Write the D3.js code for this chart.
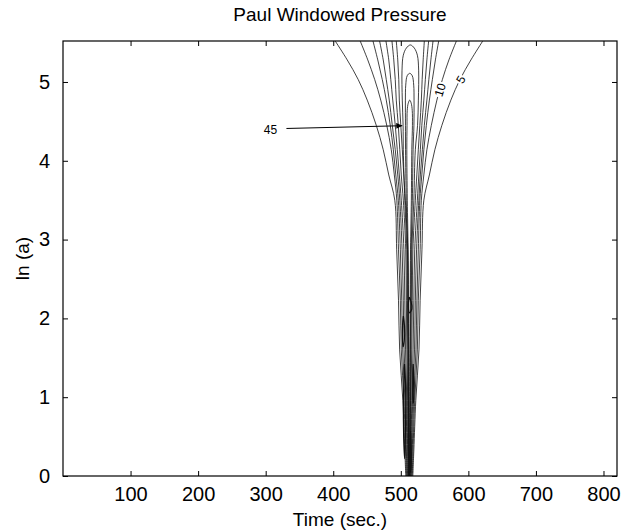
<!DOCTYPE html>
<html><head><meta charset="utf-8">
<script src="https://cdn.jsdelivr.net/npm/d3@7"></script>
<style>
html,body{margin:0;padding:0;background:#fff;}
svg{display:block;font-family:"Liberation Sans",Arial,Helvetica,sans-serif;}
</style></head><body>
<svg id="chart" width="621" height="532"></svg>
<script>
// ---------- data ----------
const titleText = "Paul Windowed Pressure";
const xLabel = "Time (sec.)";
const yLabel = "ln (a)";
const xTicks = [100, 200, 300, 400, 500, 600, 700, 800];
const yTicks = [0, 1, 2, 3, 4, 5];
const timeDomain = [0, 820];
const lnADomain = [0, 5.52];

// common ln(a) grid for the open contour branches (top -> bottom)
const lnAGrid = [5.52, 5.28, 5.03, 4.77, 4.45, 4.14, 3.82, 3.50, 2.87, 2.23, 1.60, 0.96, 0.33, 0];

// time of each open contour branch at the ln(a) grid
const c5L  = [402.9, 420.7, 437.0, 450.3, 463.7, 474.0, 482.2, 491.1, 493.9, 496.6, 498.3, 503.0, 505.9, 507.4];
const c5R  = [621.3, 603.8, 587.5, 574.1, 560.8, 550.4, 542.3, 534.1, 531.3, 528.6, 526.9, 522.2, 519.3, 517.8];
const c10L = [439.9, 451.1, 461.4, 470.3, 479.2, 485.9, 490.4, 494.1, 496.6, 499.3, 500.7, 504.6, 507.1, 508.3];
const c10R = [582.3, 571.2, 561.5, 553.4, 545.2, 538.6, 534.1, 530.4, 528.6, 525.9, 524.5, 520.6, 518.1, 516.9];
const c15L = [458.8, 465.9, 472.6, 478.5, 484.4, 488.9, 492.6, 496.3, 499.3, 501.4, 502.8, 506.1, 508.2, 509.2];
const c15R = [556.1, 551.2, 546.7, 542.3, 537.8, 534.1, 531.1, 528.2, 525.9, 523.8, 522.4, 519.1, 517.0, 516.0];
const c20L = [468.6, 474.0, 478.5, 482.9, 487.4, 491.8, 495.5, 498.5, 501.9, 503.7, 504.9, 507.6, 509.2, 509.9];
const c20R = [547.7, 544.5, 541.5, 538.6, 534.8, 531.9, 528.9, 526.7, 523.3, 521.5, 520.3, 517.6, 516.0, 515.3];
const c25L = [478.0, 482.2, 485.2, 488.1, 491.8, 494.8, 497.8, 500.7, 504.6, 505.9, 507.0, 508.9, 510.1, 510.7];
const c25R = [541.2, 538.6, 536.3, 534.1, 531.1, 528.9, 526.7, 524.5, 520.6, 519.3, 518.2, 516.3, 515.1, 514.5];
const c30L = [486.9, 489.6, 491.8, 493.3, 496.3, 498.5, 500.7, 503.7, 507.3, 508.2, 509.0, 510.2, 511.0, 511.4];
const c30R = [534.8, 533.1, 531.6, 530.4, 528.2, 525.9, 523.7, 521.5, 517.9, 517.0, 516.2, 515.0, 514.2, 513.8];
const c35L = [493.3, 495.5, 497.0, 497.8, 500.0, 502.2, 504.4, 506.7, 510.4, 510.8, 511.1, 511.4, 511.9, 512.0];

// closed-top contours (levels 35, 40, 45): [time, ln(a)]
const loop35 = [[511.7,0],[511.4,0.33],[510.8,0.96],[510.4,1.60],[509.6,2.23],[508.9,2.87],[505.9,3.50],[503.7,4.14],[503.4,4.45],[502.2,4.77],[501.8,5.15],[503.7,5.34],[508.2,5.43],[514.1,5.47],[520.0,5.43],[524.5,5.34],[526.4,5.15],[526.0,4.77],[524.8,4.45],[521.5,4.14],[519.3,3.50],[516.3,2.87],[515.6,2.23],[514.8,1.60],[514.4,0.96],[513.8,0.33],[513.5,0]];
const loop40 = [[512.0,0],[511.4,0.96],[511.1,1.60],[510.5,2.23],[509.9,2.87],[508.1,3.50],[507.0,4.14],[506.9,4.45],[506.8,4.77],[507.3,4.96],[509.5,5.08],[513.2,5.11],[516.9,5.08],[519.1,4.96],[519.6,4.77],[519.4,4.45],[518.2,4.14],[517.1,3.50],[515.3,2.87],[514.7,2.23],[514.1,1.60],[513.8,0.96],[513.2,0]];
const loop45 = [[512.3,0],[511.7,1.60],[510.8,2.87],[509.6,3.50],[508.9,4.14],[509.2,4.45],[509.5,4.64],[511.0,4.73],[513.2,4.77],[515.4,4.73],[516.9,4.64],[517.2,4.45],[516.3,4.14],[515.6,3.50],[514.4,2.87],[513.5,1.60],[512.9,0]];

// small noisy contours at small scales
const noise1 = [[503.8,2.03],[502.6,1.92],[502.4,1.74],[503.4,1.64],[505.2,1.72],[505.5,1.90],[503.8,2.03]];
const noise2 = [[518.3,1.42],[517.7,1.20],[518.0,0.92],[519.0,0.95],[519.3,1.25],[518.3,1.42]];
const noise3 = [[514.5,0.57],[513.9,0.30],[514.2,0.05],[515.2,0.10],[515.3,0.40],[514.5,0.57]];
const noise4 = [[505.5,1.42],[504.0,1.00],[504.2,0.50],[505.6,0.22],[507.0,0.60],[507.2,1.10],[505.5,1.42]];
const noise5 = [[512.5,2.27],[511.0,2.15],[513.0,2.07],[516.3,2.12],[515.0,2.22],[512.5,2.27]];

// inline contour labels
const clabelText = ["5", "10"];
const clabelTime = [588.7, 558.0];
const clabelLnA = [5.03, 4.90];

// annotation "45" with arrow
const annotText = "45";
const annotTextAt = [307, 4.39];
const annotArrowTime = [330.7, 502.2];
const annotArrowLnA = [4.41, 4.445];

// ---------- drawing ----------
const svg = d3.select("#chart");
const FONT = '"Liberation Sans", Arial, Helvetica, sans-serif';
const x = d3.scaleLinear().domain(timeDomain).range([63, 617]);
const y = d3.scaleLinear().domain(lnADomain).range([476, 41]);

const defs = svg.append("defs");
defs.append("clipPath").attr("id", "plotclip").append("rect")
  .attr("x", x(timeDomain[0])).attr("y", y(lnADomain[1]))
  .attr("width", x(timeDomain[1]) - x(timeDomain[0]))
  .attr("height", y(lnADomain[0]) - y(lnADomain[1]));
defs.append("marker").attr("id", "arrow").attr("markerUnits", "userSpaceOnUse")
  .attr("viewBox", "0 0 10 10").attr("refX", 10).attr("refY", 5)
  .attr("markerWidth", 8).attr("markerHeight", 6).attr("orient", "auto")
  .append("path").attr("d", "M0,0 L10,5 L0,10 z").attr("fill", "#000");

const line = d3.line().x(d => x(d[0])).y(d => y(d[1])).curve(d3.curveCatmullRom.alpha(0.5));
const plot = svg.append("g").attr("clip-path", "url(#plotclip)");

const openBranches = [c5L, c5R, c10L, c10R, c15L, c15R, c20L, c20R, c25L, c25R, c30L, c30R, c35L];
openBranches.forEach(arr => {
  plot.append("path").attr("d", line(arr.map((t, i) => [t, lnAGrid[i]])))
    .attr("fill", "none").attr("stroke", "#111").attr("stroke-width", 0.8);
});
[loop35, loop40, loop45].forEach(arr => {
  plot.append("path").attr("d", line(arr))
    .attr("fill", "none").attr("stroke", "#111").attr("stroke-width", 0.8);
});
[noise1, noise2, noise3, noise4, noise5].forEach(arr => {
  plot.append("path").attr("d", line(arr))
    .attr("fill", "none").attr("stroke", "#111").attr("stroke-width", 1.2);
});

// contour labels
const clabelAngles = [-60, -72];
clabelText.forEach((s, i) => {
  const px = x(clabelTime[i]), py = y(clabelLnA[i]);
  svg.append("text").attr("transform", `translate(${px},${py}) rotate(${clabelAngles[i]})`)
    .attr("text-anchor", "middle").attr("dy", "0.35em")
    .attr("font-family", FONT).attr("font-size", 12)
    .attr("stroke", "#fff").attr("stroke-width", 4).attr("paint-order", "stroke")
    .attr("fill", "#000").text(s);
});

// annotation
svg.append("line")
  .attr("x1", x(annotArrowTime[0])).attr("y1", y(annotArrowLnA[0]))
  .attr("x2", x(annotArrowTime[1])).attr("y2", y(annotArrowLnA[1]))
  .attr("stroke", "#000").attr("stroke-width", 1).attr("marker-end", "url(#arrow)");
svg.append("text").attr("x", x(annotTextAt[0])).attr("y", y(annotTextAt[1]))
  .attr("text-anchor", "middle").attr("dy", "0.35em")
  .attr("font-family", FONT).attr("font-size", 12).attr("fill", "#000").text(annotText);

// axes
function styleAxis(g) {
  g.attr("font-family", FONT).attr("font-size", 20);
  g.select(".domain").remove();
  g.selectAll(".tick line").attr("stroke", "#000");
  g.selectAll(".tick text").attr("fill", "#000");
}
const fmt = d3.format("d");
svg.append("g").attr("transform", `translate(0,${y(0)})`)
  .call(d3.axisBottom(x).tickValues(xTicks).tickFormat(fmt).tickSizeInner(-5).tickSizeOuter(0).tickPadding(11)).call(styleAxis);
svg.append("g").attr("transform", `translate(0,${y(lnADomain[1])})`)
  .call(d3.axisTop(x).tickValues(xTicks).tickSizeInner(-5).tickSizeOuter(0).tickFormat("")).call(styleAxis);
svg.append("g").attr("transform", `translate(${x(0)},0)`)
  .call(d3.axisLeft(y).tickValues(yTicks).tickFormat(fmt).tickSizeInner(-5).tickSizeOuter(0).tickPadding(13)).call(styleAxis);
svg.append("g").attr("transform", `translate(${x(timeDomain[1])},0)`)
  .call(d3.axisRight(y).tickValues(yTicks).tickSizeInner(-5).tickSizeOuter(0).tickFormat("")).call(styleAxis);

svg.append("rect")
  .attr("x", x(timeDomain[0])).attr("y", y(lnADomain[1]))
  .attr("width", x(timeDomain[1]) - x(timeDomain[0]))
  .attr("height", y(lnADomain[0]) - y(lnADomain[1]))
  .attr("fill", "none").attr("stroke", "#000").attr("stroke-width", 1.2);

// titles
const cx = (x(timeDomain[0]) + x(timeDomain[1])) / 2;
svg.append("text").attr("x", cx).attr("y", 21).attr("text-anchor", "middle")
  .attr("font-family", FONT).attr("font-size", 19).attr("fill", "#000").text(titleText);
svg.append("text").attr("x", cx).attr("y", 526).attr("text-anchor", "middle")
  .attr("font-family", FONT).attr("font-size", 19).attr("fill", "#000").text(xLabel);
svg.append("text").attr("transform", `translate(29,${(y(0) + y(lnADomain[1])) / 2}) rotate(-90)`)
  .attr("text-anchor", "middle")
  .attr("font-family", FONT).attr("font-size", 19).attr("fill", "#000").text(yLabel);
</script>
</body></html>
